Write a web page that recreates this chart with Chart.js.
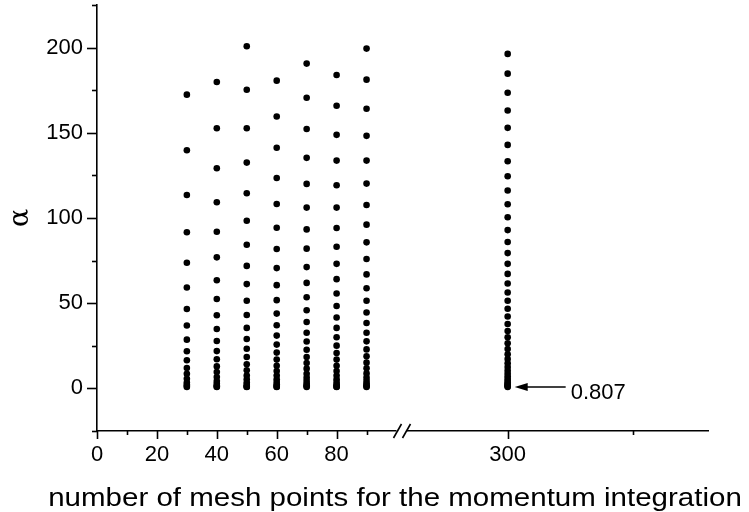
<!DOCTYPE html>
<html>
<head>
<meta charset="utf-8">
<script src="https://cdn.jsdelivr.net/npm/chart.js@4"></script>
<style>
  html, body { margin: 0; padding: 0; background: #fff; }
  #wrap { width: 749px; height: 512px; }
</style>
</head>
<body>
<div id="wrap"><canvas id="meshChart"></canvas></div>
<script>
// --- data ---
const meshLeft = [30, 40, 50, 60, 70, 80, 90];
const col30 = [172.4, 139.8, 113.5, 91.6, 73.7, 59.2, 46.6, 36.9, 28.6, 21.8, 16.5, 11.9, 8.6, 5.7, 3.4, 2.2, 1.4, 0.81];
const col40 = [179.8, 152.7, 129.2, 109.2, 91.9, 76.9, 63.5, 52.5, 42.9, 34.9, 27.8, 21.9, 17.1, 12.9, 9.6, 6.7, 4.3, 2.8, 1.7, 1.1, 0.81];
const col50 = [200.8, 175.3, 152.7, 132.5, 114.5, 98.4, 84.3, 71.9, 61.2, 51.4, 43.1, 35.5, 29.0, 23.3, 18.4, 14.1, 10.6, 7.6, 5.3, 3.5, 2.2, 1.4, 0.95, 0.81];
const col60 = [180.6, 159.6, 141.2, 123.5, 108.2, 94.3, 81.8, 70.6, 60.6, 51.8, 43.9, 37.1, 31.0, 25.7, 21.0, 16.9, 13.3, 10.2, 7.6, 5.4, 3.7, 2.4, 1.5, 1.0, 0.81];
const col70 = [190.6, 170.6, 152.2, 135.3, 120.0, 106.1, 93.3, 82.0, 71.2, 61.9, 53.5, 45.9, 39.0, 32.7, 27.5, 22.7, 18.4, 14.9, 11.6, 8.6, 6.3, 4.4, 2.9, 1.8, 1.2, 0.81];
const col80 = [183.9, 165.9, 148.8, 133.7, 119.2, 106.1, 94.1, 83.1, 73.1, 64.1, 55.7, 48.4, 41.6, 35.5, 30.0, 25.1, 20.8, 16.9, 13.3, 10.2, 7.6, 5.4, 3.7, 2.4, 1.5, 1.0, 0.81];
const col90 = [199.4, 181.2, 164.1, 148.2, 133.7, 120.2, 107.6, 96.1, 85.7, 75.9, 66.9, 58.8, 51.4, 44.5, 38.4, 32.7, 27.6, 22.9, 18.8, 15.1, 11.8, 8.8, 6.3, 4.4, 2.9, 1.9, 1.2, 0.81];
const meshRight = 300;
const col300 = [196.3, 184.7, 173.5, 163.1, 152.9, 142.9, 133.3, 124.5, 116.1, 108.1, 100.4, 92.9, 85.9, 79.4, 73.1, 67.2, 61.6, 56.3, 51.4, 46.7, 42.2, 37.8, 33.7, 30.0, 26.5, 23.1, 20.0, 17.2, 14.7, 12.5, 10.5, 8.7, 7.1, 5.7, 4.5, 3.5, 2.7, 2.1, 1.6, 1.2, 0.807];

const lowest = 0.807;                       // the value the arrow points at
const yTicks = [-25, 0, 25, 50, 75, 100, 125, 150, 175, 200, 225];
const yTickLabels = [0, 50, 100, 150, 200];
const xTicksLeft = [0, 10, 20, 30, 40, 50, 60, 70, 80, 90];
const xTickLabelsLeft = [0, 20, 40, 60, 80];
const xTicksRight = [300, 400];
const xTickLabelsRight = [300];

const FONT = "'Liberation Sans', Arial, sans-serif";

const leftCols = [col30, col40, col50, col60, col70, col80, col90];
const leftPoints = [];
leftCols.forEach((col, i) => col.forEach(v => leftPoints.push({ x: meshLeft[i], y: v })));
const rightPoints = col300.map(v => ({ x: meshRight, y: v }));

function setTicks(values) {
    return function (scale) { scale.ticks = values.map(v => ({ value: v })); };
}

// ticks, axis break, arrow and x title
const decorations = {
    id: 'decorations',
    afterDraw(chart) {
        const ctx = chart.ctx;
        const { y, x1, x2 } = chart.scales;
        const area = chart.chartArea;
        ctx.save();
        ctx.strokeStyle = '#000';
        ctx.fillStyle = '#000';
        ctx.lineWidth = 1.6;

        // y ticks (outward, left)
        y.ticks.forEach(t => {
            const py = Math.round(y.getPixelForValue(t.value)) + 0.5;
            const len = t.label !== '' ? 10 : 5;
            ctx.beginPath();
            ctx.moveTo(area.left - len, py);
            ctx.lineTo(area.left, py);
            ctx.stroke();
        });
        // x ticks (outward, down)
        [x1, x2].forEach(sc => {
            sc.ticks.forEach(t => {
                const px = Math.round(sc.getPixelForValue(t.value)) + 0.5;
                const len = t.label !== '' ? 8 : 4;
                ctx.beginPath();
                ctx.moveTo(px, area.bottom);
                ctx.lineTo(px, area.bottom + len);
                ctx.stroke();
            });
        });

        // axis break
        const bx = x1.right;
        const by = area.bottom;
        ctx.fillStyle = '#fff';
        ctx.fillRect(bx - 6, by - 3, 10, 6);
        ctx.fillStyle = '#000';
        [-5, 4].forEach(dx => {
            ctx.beginPath();
            ctx.moveTo(bx + dx - 4, by + 7);
            ctx.lineTo(bx + dx + 4, by - 7);
            ctx.stroke();
        });

        // arrow to the lowest value at 300
        const ax = x2.getPixelForValue(meshRight);
        const ay = y.getPixelForValue(lowest);
        const tip = ax + 7;
        ctx.beginPath();
        ctx.moveTo(tip + 10, ay);
        ctx.lineTo(ax + 58, ay);
        ctx.stroke();
        ctx.beginPath();
        ctx.moveTo(tip, ay);
        ctx.lineTo(tip + 13, ay - 4);
        ctx.lineTo(tip + 13, ay + 4);
        ctx.closePath();
        ctx.fill();
        ctx.font = '22px ' + FONT;
        ctx.textAlign = 'left';
        ctx.textBaseline = 'middle';
        ctx.fillText('0.807', ax + 63, ay + 6);

        // x axis title, a little wider than the plain font
        ctx.font = '25px ' + FONT;
        ctx.textAlign = 'center';
        ctx.textBaseline = 'alphabetic';
        ctx.translate(395, 506);
        ctx.scale(1.18, 1);
        ctx.fillText('number of mesh points for the momentum integration', 0, 0);
        ctx.restore();
    }
};

const tickFont = { family: FONT, size: 22 };
const xAxisBase = {
    type: 'linear',
    position: 'bottom',
    stack: 'mesh',
    stackWeight: 1,
    grid: { display: false, drawTicks: false },
    border: { display: true, color: '#000', width: 1.6 },
    afterFit(scale) {
        scale.height = 81;
        scale.paddingLeft = 0;
        scale.paddingRight = 0;
    }
};

new Chart(document.getElementById('meshChart'), {
    type: 'scatter',
    data: {
        datasets: [
            {
                label: 'N ≤ 90',
                data: leftPoints,
                xAxisID: 'x1',
                yAxisID: 'y',
                pointRadius: 3.3,
                pointBorderWidth: 0,
                pointBackgroundColor: '#000',
                showLine: false
            },
            {
                label: 'N = 300',
                data: rightPoints,
                xAxisID: 'x2',
                yAxisID: 'y',
                pointRadius: 3.3,
                pointBorderWidth: 0,
                pointBackgroundColor: '#000',
                showLine: false
            }
        ]
    },
    options: {
        responsive: true,
        maintainAspectRatio: false,
        animation: false,
        layout: { padding: { left: 0, right: 41, top: 5, bottom: 0 } },
        plugins: {
            legend: { display: false },
            tooltip: { enabled: false }
        },
        scales: {
            x1: Object.assign({}, xAxisBase, {
                min: 0,
                max: 102,
                afterBuildTicks: setTicks(xTicksLeft),
                ticks: {
                    color: '#000', font: tickFont, padding: 11, autoSkip: false, maxRotation: 0,
                    callback: v => xTickLabelsLeft.includes(v) ? String(v) : ''
                }
            }),
            x2: Object.assign({}, xAxisBase, {
                min: 216,
                max: 460,
                afterBuildTicks: setTicks(xTicksRight),
                ticks: {
                    color: '#000', font: tickFont, padding: 11, autoSkip: false, maxRotation: 0,
                    callback: v => xTickLabelsRight.includes(v) ? String(v) : ''
                }
            }),
            y: {
                type: 'linear',
                position: 'left',
                min: -25,
                max: 225,
                afterBuildTicks: setTicks(yTicks),
                grid: { display: false, drawTicks: false },
                border: { display: true, color: '#000', width: 1.6 },
                ticks: {
                    color: '#000', font: tickFont, padding: 14, autoSkip: false,
                    callback: v => yTickLabels.includes(v) ? String(v) : ''
                },
                title: {
                    display: true,
                    text: 'α',
                    color: '#000',
                    font: { family: "'DejaVu Serif', serif", size: 27 },
                    padding: { top: 5, bottom: 0 }
                },
                afterFit(scale) {
                    scale.width = 97;
                    scale.paddingTop = 0;
                    scale.paddingBottom = 0;
                }
            }
        }
    },
    plugins: [decorations]
});
</script>
</body>
</html>
